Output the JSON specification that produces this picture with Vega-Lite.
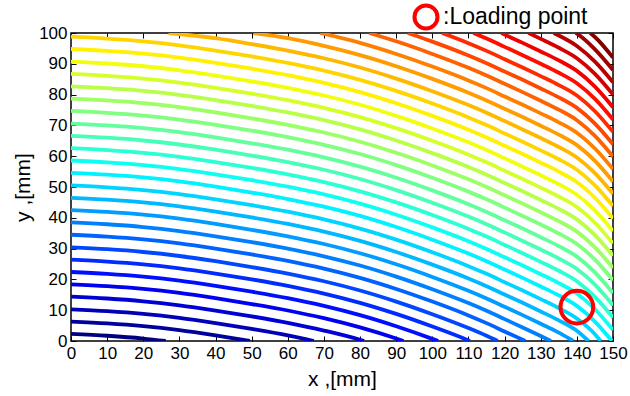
{
"$schema": "https://vega.github.io/schema/vega-lite/v6.json",
"width": 542, "height": 308, "autosize": "none",
"padding": {"left": 71, "top": 33, "right": 17, "bottom": 55},
"background": "white",
"config": {
 "view": {"stroke": "#000", "strokeWidth": 1.5},
 "font": "Liberation Sans",
 "axis": {"labelFont": "Liberation Sans", "labelFontSize": 17, "labelColor": "#000", "titleFont": "Liberation Sans", "titleFontSize": 21, "titleFontWeight": "normal", "titleColor": "#000", "tickColor": "#000", "tickSize": -5, "tickWidth": 1, "domain": false, "grid": false, "labelPadding": 9, "labelFlush": false, "labelOverlap": false}
},
"datasets": {
 "contours": [
{"k":1,"x":0,"y":2.3},{"k":1,"x":10,"y":1.7},{"k":1,"x":20,"y":0.8},{"k":1,"x":26.2,"y":0},
{"k":2,"x":0,"y":6.3},{"k":2,"x":10,"y":5.7},{"k":2,"x":20,"y":4.8},{"k":2,"x":30,"y":3.5},{"k":2,"x":40,"y":1.8},{"k":2,"x":49.5,"y":0},
{"k":3,"x":0,"y":10.3},{"k":3,"x":10,"y":9.7},{"k":3,"x":20,"y":8.8},{"k":3,"x":30,"y":7.5},{"k":3,"x":40,"y":5.8},{"k":3,"x":50,"y":3.9},{"k":3,"x":60,"y":1.8},{"k":3,"x":67.2,"y":0},
{"k":4,"x":0,"y":14.4},{"k":4,"x":10,"y":13.8},{"k":4,"x":20,"y":12.9},{"k":4,"x":30,"y":11.6},{"k":4,"x":40,"y":9.9},{"k":4,"x":50,"y":8.0},{"k":4,"x":60,"y":5.9},{"k":4,"x":70,"y":3.4},{"k":4,"x":80,"y":0.4},{"k":4,"x":81.1,"y":0},
{"k":5,"x":0,"y":18.4},{"k":5,"x":10,"y":17.8},{"k":5,"x":20,"y":16.9},{"k":5,"x":30,"y":15.6},{"k":5,"x":40,"y":13.9},{"k":5,"x":50,"y":12.0},{"k":5,"x":60,"y":9.9},{"k":5,"x":70,"y":7.4},{"k":5,"x":80,"y":4.4},{"k":5,"x":90,"y":0.8},{"k":5,"x":92,"y":0},
{"k":6,"x":0,"y":22.4},{"k":6,"x":10,"y":21.8},{"k":6,"x":20,"y":20.9},{"k":6,"x":30,"y":19.6},{"k":6,"x":40,"y":17.9},{"k":6,"x":50,"y":16.0},{"k":6,"x":60,"y":13.9},{"k":6,"x":70,"y":11.4},{"k":6,"x":80,"y":8.4},{"k":6,"x":90,"y":4.8},{"k":6,"x":100,"y":0.7},{"k":6,"x":101.6,"y":0},
{"k":7,"x":0,"y":26.4},{"k":7,"x":10,"y":25.8},{"k":7,"x":20,"y":24.9},{"k":7,"x":30,"y":23.6},{"k":7,"x":40,"y":21.9},{"k":7,"x":50,"y":20.0},{"k":7,"x":60,"y":17.9},{"k":7,"x":70,"y":15.4},{"k":7,"x":80,"y":12.4},{"k":7,"x":90,"y":8.8},{"k":7,"x":100,"y":4.7},{"k":7,"x":110,"y":0.2},{"k":7,"x":110.4,"y":0},
{"k":8,"x":0,"y":30.4},{"k":8,"x":10,"y":29.8},{"k":8,"x":20,"y":28.9},{"k":8,"x":30,"y":27.6},{"k":8,"x":40,"y":25.9},{"k":8,"x":50,"y":24.0},{"k":8,"x":60,"y":21.9},{"k":8,"x":70,"y":19.4},{"k":8,"x":80,"y":16.4},{"k":8,"x":90,"y":12.8},{"k":8,"x":100,"y":8.7},{"k":8,"x":110,"y":4.2},{"k":8,"x":115,"y":1.7},{"k":8,"x":118.1,"y":0},
{"k":9,"x":0,"y":34.5},{"k":9,"x":10,"y":33.9},{"k":9,"x":20,"y":33.0},{"k":9,"x":30,"y":31.7},{"k":9,"x":40,"y":30.0},{"k":9,"x":50,"y":28.1},{"k":9,"x":60,"y":26.0},{"k":9,"x":70,"y":23.5},{"k":9,"x":80,"y":20.5},{"k":9,"x":90,"y":16.9},{"k":9,"x":100,"y":12.8},{"k":9,"x":110,"y":8.3},{"k":9,"x":115,"y":5.8},{"k":9,"x":120,"y":3.1},{"k":9,"x":125,"y":0.4},{"k":9,"x":125.7,"y":0},
{"k":10,"x":0,"y":38.5},{"k":10,"x":10,"y":37.9},{"k":10,"x":20,"y":37.0},{"k":10,"x":30,"y":35.7},{"k":10,"x":40,"y":34.0},{"k":10,"x":50,"y":32.1},{"k":10,"x":60,"y":30.0},{"k":10,"x":70,"y":27.5},{"k":10,"x":80,"y":24.5},{"k":10,"x":90,"y":20.9},{"k":10,"x":100,"y":16.8},{"k":10,"x":110,"y":12.3},{"k":10,"x":115,"y":9.8},{"k":10,"x":120,"y":7.1},{"k":10,"x":125,"y":4.4},{"k":10,"x":130,"y":1.6},{"k":10,"x":132.8,"y":0},
{"k":11,"x":0,"y":42.5},{"k":11,"x":10,"y":41.9},{"k":11,"x":20,"y":41.0},{"k":11,"x":30,"y":39.7},{"k":11,"x":40,"y":38.0},{"k":11,"x":50,"y":36.1},{"k":11,"x":60,"y":34.0},{"k":11,"x":70,"y":31.5},{"k":11,"x":80,"y":28.5},{"k":11,"x":90,"y":24.9},{"k":11,"x":100,"y":20.8},{"k":11,"x":110,"y":16.3},{"k":11,"x":115,"y":13.8},{"k":11,"x":120,"y":11.1},{"k":11,"x":125,"y":8.4},{"k":11,"x":130,"y":5.6},{"k":11,"x":135,"y":2.7},{"k":11,"x":139,"y":0},
{"k":12,"x":0,"y":46.5},{"k":12,"x":10,"y":45.9},{"k":12,"x":20,"y":45.0},{"k":12,"x":30,"y":43.7},{"k":12,"x":40,"y":42.0},{"k":12,"x":50,"y":40.1},{"k":12,"x":60,"y":38.0},{"k":12,"x":70,"y":35.5},{"k":12,"x":80,"y":32.5},{"k":12,"x":90,"y":28.9},{"k":12,"x":100,"y":24.8},{"k":12,"x":110,"y":20.3},{"k":12,"x":115,"y":17.8},{"k":12,"x":120,"y":15.1},{"k":12,"x":125,"y":12.4},{"k":12,"x":130,"y":9.6},{"k":12,"x":135,"y":6.7},{"k":12,"x":140,"y":3.3},{"k":12,"x":143.2,"y":0},
{"k":13,"x":0,"y":50.5},{"k":13,"x":10,"y":49.9},{"k":13,"x":20,"y":49.0},{"k":13,"x":30,"y":47.7},{"k":13,"x":40,"y":46.0},{"k":13,"x":50,"y":44.1},{"k":13,"x":60,"y":42.0},{"k":13,"x":70,"y":39.5},{"k":13,"x":80,"y":36.5},{"k":13,"x":90,"y":32.9},{"k":13,"x":100,"y":28.8},{"k":13,"x":110,"y":24.3},{"k":13,"x":115,"y":21.8},{"k":13,"x":120,"y":19.1},{"k":13,"x":125,"y":16.4},{"k":13,"x":130,"y":13.6},{"k":13,"x":135,"y":10.7},{"k":13,"x":140,"y":7.3},{"k":13,"x":145,"y":2.2},{"k":13,"x":146.6,"y":0},
{"k":14,"x":0,"y":54.6},{"k":14,"x":10,"y":54.0},{"k":14,"x":20,"y":53.1},{"k":14,"x":30,"y":51.8},{"k":14,"x":40,"y":50.1},{"k":14,"x":50,"y":48.2},{"k":14,"x":60,"y":46.1},{"k":14,"x":70,"y":43.6},{"k":14,"x":80,"y":40.6},{"k":14,"x":90,"y":37.0},{"k":14,"x":100,"y":32.9},{"k":14,"x":110,"y":28.4},{"k":14,"x":115,"y":25.9},{"k":14,"x":120,"y":23.2},{"k":14,"x":125,"y":20.5},{"k":14,"x":130,"y":17.7},{"k":14,"x":135,"y":14.8},{"k":14,"x":140,"y":11.4},{"k":14,"x":145,"y":6.3},{"k":14,"x":149.7,"y":0},
{"k":15,"x":0,"y":58.6},{"k":15,"x":10,"y":58.0},{"k":15,"x":20,"y":57.1},{"k":15,"x":30,"y":55.8},{"k":15,"x":40,"y":54.1},{"k":15,"x":50,"y":52.2},{"k":15,"x":60,"y":50.1},{"k":15,"x":70,"y":47.6},{"k":15,"x":80,"y":44.6},{"k":15,"x":90,"y":41.0},{"k":15,"x":100,"y":36.9},{"k":15,"x":110,"y":32.4},{"k":15,"x":115,"y":29.9},{"k":15,"x":120,"y":27.2},{"k":15,"x":125,"y":24.5},{"k":15,"x":130,"y":21.7},{"k":15,"x":135,"y":18.8},{"k":15,"x":140,"y":15.4},{"k":15,"x":145,"y":10.3},{"k":15,"x":150,"y":3.6},
{"k":16,"x":0,"y":62.6},{"k":16,"x":10,"y":62.0},{"k":16,"x":20,"y":61.1},{"k":16,"x":30,"y":59.8},{"k":16,"x":40,"y":58.1},{"k":16,"x":50,"y":56.2},{"k":16,"x":60,"y":54.1},{"k":16,"x":70,"y":51.6},{"k":16,"x":80,"y":48.6},{"k":16,"x":90,"y":45.0},{"k":16,"x":100,"y":40.9},{"k":16,"x":110,"y":36.4},{"k":16,"x":115,"y":33.9},{"k":16,"x":120,"y":31.2},{"k":16,"x":125,"y":28.5},{"k":16,"x":130,"y":25.7},{"k":16,"x":135,"y":22.8},{"k":16,"x":140,"y":19.4},{"k":16,"x":145,"y":14.3},{"k":16,"x":150,"y":7.6},
{"k":17,"x":0,"y":66.6},{"k":17,"x":10,"y":66.0},{"k":17,"x":20,"y":65.1},{"k":17,"x":30,"y":63.8},{"k":17,"x":40,"y":62.1},{"k":17,"x":50,"y":60.2},{"k":17,"x":60,"y":58.1},{"k":17,"x":70,"y":55.6},{"k":17,"x":80,"y":52.6},{"k":17,"x":90,"y":49.0},{"k":17,"x":100,"y":44.9},{"k":17,"x":110,"y":40.4},{"k":17,"x":115,"y":37.9},{"k":17,"x":120,"y":35.2},{"k":17,"x":125,"y":32.5},{"k":17,"x":130,"y":29.7},{"k":17,"x":135,"y":26.8},{"k":17,"x":140,"y":23.4},{"k":17,"x":145,"y":18.3},{"k":17,"x":150,"y":11.6},
{"k":18,"x":0,"y":70.6},{"k":18,"x":10,"y":70.0},{"k":18,"x":20,"y":69.1},{"k":18,"x":30,"y":67.8},{"k":18,"x":40,"y":66.1},{"k":18,"x":50,"y":64.2},{"k":18,"x":60,"y":62.1},{"k":18,"x":70,"y":59.6},{"k":18,"x":80,"y":56.6},{"k":18,"x":90,"y":53.0},{"k":18,"x":100,"y":48.9},{"k":18,"x":110,"y":44.4},{"k":18,"x":115,"y":41.9},{"k":18,"x":120,"y":39.2},{"k":18,"x":125,"y":36.5},{"k":18,"x":130,"y":33.7},{"k":18,"x":135,"y":30.8},{"k":18,"x":140,"y":27.4},{"k":18,"x":145,"y":22.3},{"k":18,"x":150,"y":15.6},
{"k":19,"x":0,"y":74.7},{"k":19,"x":10,"y":74.1},{"k":19,"x":20,"y":73.2},{"k":19,"x":30,"y":71.9},{"k":19,"x":40,"y":70.2},{"k":19,"x":50,"y":68.3},{"k":19,"x":60,"y":66.2},{"k":19,"x":70,"y":63.7},{"k":19,"x":80,"y":60.7},{"k":19,"x":90,"y":57.1},{"k":19,"x":100,"y":53.0},{"k":19,"x":110,"y":48.5},{"k":19,"x":115,"y":46.0},{"k":19,"x":120,"y":43.3},{"k":19,"x":125,"y":40.6},{"k":19,"x":130,"y":37.8},{"k":19,"x":135,"y":34.9},{"k":19,"x":140,"y":31.5},{"k":19,"x":145,"y":26.4},{"k":19,"x":150,"y":19.7},
{"k":20,"x":0,"y":78.7},{"k":20,"x":10,"y":78.1},{"k":20,"x":20,"y":77.2},{"k":20,"x":30,"y":75.9},{"k":20,"x":40,"y":74.2},{"k":20,"x":50,"y":72.3},{"k":20,"x":60,"y":70.2},{"k":20,"x":70,"y":67.7},{"k":20,"x":80,"y":64.7},{"k":20,"x":90,"y":61.1},{"k":20,"x":100,"y":57.0},{"k":20,"x":110,"y":52.5},{"k":20,"x":115,"y":50.0},{"k":20,"x":120,"y":47.3},{"k":20,"x":125,"y":44.6},{"k":20,"x":130,"y":41.8},{"k":20,"x":135,"y":38.9},{"k":20,"x":140,"y":35.5},{"k":20,"x":145,"y":30.4},{"k":20,"x":150,"y":23.7},
{"k":21,"x":0,"y":82.7},{"k":21,"x":10,"y":82.1},{"k":21,"x":20,"y":81.2},{"k":21,"x":30,"y":79.9},{"k":21,"x":40,"y":78.2},{"k":21,"x":50,"y":76.3},{"k":21,"x":60,"y":74.2},{"k":21,"x":70,"y":71.7},{"k":21,"x":80,"y":68.7},{"k":21,"x":90,"y":65.1},{"k":21,"x":100,"y":61.0},{"k":21,"x":110,"y":56.5},{"k":21,"x":115,"y":54.0},{"k":21,"x":120,"y":51.3},{"k":21,"x":125,"y":48.6},{"k":21,"x":130,"y":45.8},{"k":21,"x":135,"y":42.9},{"k":21,"x":140,"y":39.5},{"k":21,"x":145,"y":34.4},{"k":21,"x":150,"y":27.7},
{"k":22,"x":0,"y":86.7},{"k":22,"x":10,"y":86.1},{"k":22,"x":20,"y":85.2},{"k":22,"x":30,"y":83.9},{"k":22,"x":40,"y":82.2},{"k":22,"x":50,"y":80.3},{"k":22,"x":60,"y":78.2},{"k":22,"x":70,"y":75.7},{"k":22,"x":80,"y":72.7},{"k":22,"x":90,"y":69.1},{"k":22,"x":100,"y":65.0},{"k":22,"x":110,"y":60.5},{"k":22,"x":115,"y":58.0},{"k":22,"x":120,"y":55.3},{"k":22,"x":125,"y":52.6},{"k":22,"x":130,"y":49.8},{"k":22,"x":135,"y":46.9},{"k":22,"x":140,"y":43.5},{"k":22,"x":145,"y":38.4},{"k":22,"x":150,"y":31.7},
{"k":23,"x":0,"y":90.7},{"k":23,"x":10,"y":90.1},{"k":23,"x":20,"y":89.2},{"k":23,"x":30,"y":87.9},{"k":23,"x":40,"y":86.2},{"k":23,"x":50,"y":84.3},{"k":23,"x":60,"y":82.2},{"k":23,"x":70,"y":79.7},{"k":23,"x":80,"y":76.7},{"k":23,"x":90,"y":73.1},{"k":23,"x":100,"y":69.0},{"k":23,"x":110,"y":64.5},{"k":23,"x":115,"y":62.0},{"k":23,"x":120,"y":59.3},{"k":23,"x":125,"y":56.6},{"k":23,"x":130,"y":53.8},{"k":23,"x":135,"y":50.9},{"k":23,"x":140,"y":47.5},{"k":23,"x":145,"y":42.4},{"k":23,"x":150,"y":35.7},
{"k":24,"x":0,"y":94.8},{"k":24,"x":10,"y":94.2},{"k":24,"x":20,"y":93.3},{"k":24,"x":30,"y":92.0},{"k":24,"x":40,"y":90.3},{"k":24,"x":50,"y":88.4},{"k":24,"x":60,"y":86.3},{"k":24,"x":70,"y":83.8},{"k":24,"x":80,"y":80.8},{"k":24,"x":90,"y":77.2},{"k":24,"x":100,"y":73.1},{"k":24,"x":110,"y":68.6},{"k":24,"x":115,"y":66.1},{"k":24,"x":120,"y":63.4},{"k":24,"x":125,"y":60.7},{"k":24,"x":130,"y":57.9},{"k":24,"x":135,"y":55.0},{"k":24,"x":140,"y":51.6},{"k":24,"x":145,"y":46.5},{"k":24,"x":150,"y":39.8},
{"k":25,"x":0,"y":98.8},{"k":25,"x":10,"y":98.2},{"k":25,"x":20,"y":97.3},{"k":25,"x":30,"y":96.0},{"k":25,"x":40,"y":94.3},{"k":25,"x":50,"y":92.4},{"k":25,"x":60,"y":90.3},{"k":25,"x":70,"y":87.8},{"k":25,"x":80,"y":84.8},{"k":25,"x":90,"y":81.2},{"k":25,"x":100,"y":77.1},{"k":25,"x":110,"y":72.6},{"k":25,"x":115,"y":70.1},{"k":25,"x":120,"y":67.4},{"k":25,"x":125,"y":64.7},{"k":25,"x":130,"y":61.9},{"k":25,"x":135,"y":59.0},{"k":25,"x":140,"y":55.6},{"k":25,"x":145,"y":50.5},{"k":25,"x":150,"y":43.8},
{"k":26,"x":27,"y":100},{"k":26,"x":40,"y":98.3},{"k":26,"x":50,"y":96.4},{"k":26,"x":60,"y":94.3},{"k":26,"x":70,"y":91.8},{"k":26,"x":80,"y":88.8},{"k":26,"x":90,"y":85.2},{"k":26,"x":100,"y":81.1},{"k":26,"x":110,"y":76.6},{"k":26,"x":115,"y":74.1},{"k":26,"x":120,"y":71.4},{"k":26,"x":125,"y":68.7},{"k":26,"x":130,"y":65.9},{"k":26,"x":135,"y":63.0},{"k":26,"x":140,"y":59.6},{"k":26,"x":145,"y":54.5},{"k":26,"x":150,"y":47.8},
{"k":27,"x":50.5,"y":100},{"k":27,"x":60,"y":98.3},{"k":27,"x":70,"y":95.8},{"k":27,"x":80,"y":92.8},{"k":27,"x":90,"y":89.2},{"k":27,"x":100,"y":85.1},{"k":27,"x":110,"y":80.6},{"k":27,"x":115,"y":78.1},{"k":27,"x":120,"y":75.4},{"k":27,"x":125,"y":72.7},{"k":27,"x":130,"y":69.9},{"k":27,"x":135,"y":67.0},{"k":27,"x":140,"y":63.6},{"k":27,"x":145,"y":58.5},{"k":27,"x":150,"y":51.8},
{"k":28,"x":69,"y":100},{"k":28,"x":80,"y":96.8},{"k":28,"x":90,"y":93.2},{"k":28,"x":100,"y":89.1},{"k":28,"x":110,"y":84.6},{"k":28,"x":115,"y":82.1},{"k":28,"x":120,"y":79.4},{"k":28,"x":125,"y":76.7},{"k":28,"x":130,"y":73.9},{"k":28,"x":135,"y":71.0},{"k":28,"x":140,"y":67.6},{"k":28,"x":145,"y":62.5},{"k":28,"x":150,"y":55.8},
{"k":29,"x":82.5,"y":100},{"k":29,"x":90,"y":97.3},{"k":29,"x":100,"y":93.2},{"k":29,"x":110,"y":88.7},{"k":29,"x":115,"y":86.2},{"k":29,"x":120,"y":83.5},{"k":29,"x":125,"y":80.8},{"k":29,"x":130,"y":78.0},{"k":29,"x":135,"y":75.1},{"k":29,"x":140,"y":71.7},{"k":29,"x":145,"y":66.6},{"k":29,"x":150,"y":59.9},
{"k":30,"x":93.2,"y":100},{"k":30,"x":100,"y":97.2},{"k":30,"x":110,"y":92.7},{"k":30,"x":115,"y":90.2},{"k":30,"x":120,"y":87.5},{"k":30,"x":125,"y":84.8},{"k":30,"x":130,"y":82.0},{"k":30,"x":135,"y":79.1},{"k":30,"x":140,"y":75.7},{"k":30,"x":145,"y":70.6},{"k":30,"x":150,"y":63.9},
{"k":31,"x":102.7,"y":100},{"k":31,"x":110,"y":96.7},{"k":31,"x":115,"y":94.2},{"k":31,"x":120,"y":91.5},{"k":31,"x":125,"y":88.8},{"k":31,"x":130,"y":86.0},{"k":31,"x":135,"y":83.1},{"k":31,"x":140,"y":79.7},{"k":31,"x":145,"y":74.6},{"k":31,"x":150,"y":67.9},
{"k":32,"x":111.4,"y":100},{"k":32,"x":115,"y":98.2},{"k":32,"x":120,"y":95.5},{"k":32,"x":125,"y":92.8},{"k":32,"x":130,"y":90.0},{"k":32,"x":135,"y":87.1},{"k":32,"x":140,"y":83.7},{"k":32,"x":145,"y":78.6},{"k":32,"x":150,"y":71.9},
{"k":33,"x":119.1,"y":100},{"k":33,"x":120,"y":99.5},{"k":33,"x":125,"y":96.8},{"k":33,"x":130,"y":94.0},{"k":33,"x":135,"y":91.1},{"k":33,"x":140,"y":87.7},{"k":33,"x":145,"y":82.6},{"k":33,"x":150,"y":75.9},
{"k":34,"x":126.6,"y":100},{"k":34,"x":130,"y":98.1},{"k":34,"x":135,"y":95.2},{"k":34,"x":140,"y":91.8},{"k":34,"x":145,"y":86.7},{"k":34,"x":150,"y":80.0},
{"k":35,"x":133.6,"y":100},{"k":35,"x":135,"y":99.2},{"k":35,"x":140,"y":95.8},{"k":35,"x":145,"y":90.7},{"k":35,"x":150,"y":84.0},
{"k":36,"x":139.7,"y":100},{"k":36,"x":140,"y":99.8},{"k":36,"x":145,"y":94.7},{"k":36,"x":150,"y":88.0},
{"k":37,"x":143.7,"y":100},{"k":37,"x":145,"y":98.7},{"k":37,"x":150,"y":92.0}
 ],
 "load": [{"x": 140, "y": 11, "name": "Loading point"}]
},
"layer": [
 {
  "data": {"name": "contours"},
  "mark": {"type": "line", "strokeWidth": 3.8, "interpolate": "monotone", "clip": true},
  "encoding": {
   "x": {"field": "x", "type": "quantitative", "scale": {"domain": [0, 150], "nice": false, "zero": false},
         "axis": {"orient": "bottom", "values": [0,10,20,30,40,50,60,70,80,90,100,110,120,130,140,150], "title": "x ,[mm]", "titlePadding": 7}},
   "y": {"field": "y", "type": "quantitative", "scale": {"domain": [0, 100], "nice": false, "zero": false},
         "axis": {"orient": "left", "values": [0,10,20,30,40,50,60,70,80,90,100], "title": "y ,[mm]", "titlePadding": 5}},
   "color": {"field": "k", "type": "quantitative", "legend": null,
             "scale": {"domain": [1, 5.5, 14.5, 23.5, 32.5, 37], "range": ["#000080", "#0000ff", "#00ffff", "#ffff00", "#ff0000", "#800000"], "interpolate": "rgb"}},
   "detail": {"field": "k", "type": "nominal"},
   "order": {"field": "x", "type": "quantitative"}
  }
 },
 {
  "data": {"name": "load"},
  "mark": {"type": "point", "shape": "circle", "filled": false, "size": 1070, "strokeWidth": 4, "opacity": 1},
  "encoding": {
   "x": {"field": "x", "type": "quantitative", "scale": {"domain": [0, 150], "nice": false, "zero": false},
         "axis": {"orient": "top", "values": [0,10,20,30,40,50,60,70,80,90,100,110,120,130,140,150], "labels": false, "title": null}},
   "y": {"field": "y", "type": "quantitative", "scale": {"domain": [0, 100], "nice": false, "zero": false},
         "axis": {"orient": "right", "values": [0,10,20,30,40,50,60,70,80,90,100], "labels": false, "title": null}},
   "stroke": {"field": "name", "type": "nominal", "scale": {"range": ["#ff0000"]},
              "legend": {"orient": "none", "legendX": 341, "legendY": -30, "title": null, "symbolType": "circle", "symbolSize": 530, "symbolStrokeWidth": 4, "symbolStrokeColor": "#ff0000", "symbolFillColor": "transparent", "labelFontSize": 23, "labelColor": "#000", "labelFont": "Liberation Sans", "labelExpr": "':' + datum.label", "labelOffset": 3, "padding": 0}}
  }
 }
],
"resolve": {"axis": {"x": "independent", "y": "independent"}}
}
